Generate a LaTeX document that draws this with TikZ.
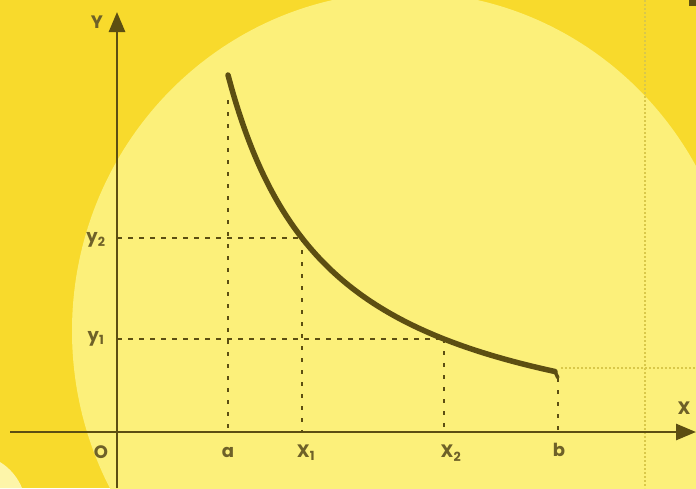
\documentclass[tikz,border=0pt]{standalone}
\usepackage{fontspec}
\setmainfont{Poppins}
\usetikzlibrary{arrows.meta}
\definecolor{bgyel}{HTML}{F8DA2C}
\definecolor{ltyel}{HTML}{FCF07A}
\definecolor{ink}{HTML}{5C4E12}
\definecolor{txt}{HTML}{6E6128}
\definecolor{faint}{HTML}{D9C84A}
\tikzset{
  axis/.style={draw=ink, line width=2.8pt, -{Triangle[length=20pt,width=16pt]}},
  guide/.style={draw=ink, line width=2.5pt, dash pattern=on 5pt off 6pt},
  vguide/.style={draw=ink, line width=2.5pt, dash pattern=on 4pt off 8pt},
  curvestyle/.style={draw=ink, line width=5.5pt},
  faintline/.style={draw=faint, line width=1.4pt, dash pattern=on 2pt off 2pt},
  lab/.style={text=txt, font=\fontsize{18}{18}\selectfont\bfseries, inner sep=0pt},
}
\begin{document}
\begin{tikzpicture}[x=1pt,y=-1pt]
\useasboundingbox (0,0) rectangle (696,488);
% background
\fill[bgyel] (0,0) rectangle (696,488);
\fill[ltyel] (405,331) ellipse [x radius=333, y radius=339];
\fill[white!35!ltyel] (0,462) .. controls (10,468) and (18,478) .. (22,488) -- (0,488) -- cycle;
\fill[ink] (689,0) rectangle (696,6);
% faint lines
\coordinate (fv1) at (645,0);
\coordinate (fv2) at (645,488);
\draw[faintline] (fv1) -- (fv2);
% curve
\coordinate (A) at (228,75);
\coordinate (P1) at (302,238);
\coordinate (P2) at (444,339);
\coordinate (B) at (555,371.5);
\coordinate (Bh) at (558,378);
\coordinate (fh) at (696,368);
\coordinate (fh0) at (561,368);
\draw[faintline] (fh0) -- (fh);
% axis foot points
\coordinate (Ya) at (117,339);
\coordinate (Yb) at (117,238);
\coordinate (xa) at (228,432);
\coordinate (x1) at (302,432);
\coordinate (x2) at (444,432);
\coordinate (xb) at (558,432);
\coordinate (Atop) at (228,100);
% guides
\draw[guide] (Yb) -- (P1);
\draw[guide] (Ya) -- (P2);
\draw[vguide] (Atop) -- (xa);
\draw[vguide] (P1) -- (x1);
\draw[vguide] (P2) -- (x2);
\draw[vguide] (Bh) -- (xb);
% axes
\coordinate (yb) at (117,488);
\coordinate (yt) at (117,12);
\coordinate (xl) at (10,432);
\coordinate (xr) at (696,432);
\draw[axis] (yb) -- (yt);
\draw[axis] (xl) -- (xr);
% curve
\draw[curvestyle, line cap=round] plot[domain=228:555, samples=90, smooth] (\x, {464.9 - 401.58/((\x-125)/100)});
\draw[ink, line width=3.5pt] (B) -- (Bh);
% labels
\node[lab] (lY) at (97,22) {Y};
\node[lab] (lX) at (684,408) {X};
\node[lab] (lO) at (101,452) {O};
\node[lab] (la) at (228,452) {a};
\node[lab] (lx1) at (306,453) {X\textsubscript{1}};
\node[lab] (lx2) at (451,453) {X\textsubscript{2}};
\node[lab] (lb) at (559,450) {b};
\node[lab] (ly2) at (96,240) {y\textsubscript{2}};
\node[lab] (ly1) at (96,339) {y\textsubscript{1}};
\end{tikzpicture}
\end{document}
